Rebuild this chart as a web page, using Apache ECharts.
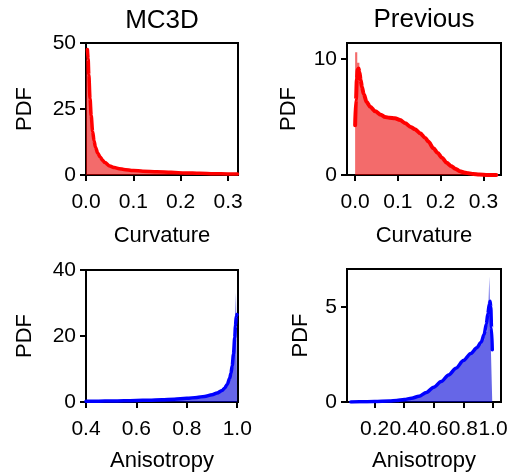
<!DOCTYPE html>
<html>
<head>
<meta charset="utf-8">
<script src="https://cdn.jsdelivr.net/npm/echarts@6/dist/echarts.min.js"></script>
<style>
html,body{margin:0;padding:0;background:#fff;}
#c{width:510px;height:473px;}
</style>
</head>
<body>
<div id="c"></div>
<script>
// ---------- Panel titles / axis names ----------
var panelTitles = ['MC3D', 'Previous'];
var xNames = ['Curvature', 'Curvature', 'Anisotropy', 'Anisotropy'];
var yName = 'PDF';

// ---------- Tick values ----------
var xTicks1 = [0.0, 0.1, 0.2, 0.3];
var xTicks2 = [0.0, 0.1, 0.2, 0.3];
var xTicks3 = [0.4, 0.6, 0.8, 1.0];
var xTicks4 = [0.2, 0.4, 0.6, 0.8, 1.0];
var yTicks1 = [0, 25, 50];
var yTicks2 = [0, 10];
var yTicks3 = [0, 20, 40];
var yTicks4 = [0, 5];

// ---------- MC3D curvature ----------
var mc3dCurvHistEdges = [0, 0.0025, 0.005, 0.0075, 0.01, 0.0125, 0.015, 0.0175, 0.02, 0.025, 0.03, 0.035, 0.04, 0.05, 0.06, 0.07, 0.08, 0.09, 0.10, 0.12, 0.14, 0.16, 0.18, 0.20, 0.22, 0.24, 0.26, 0.28, 0.30, 0.32];
var mc3dCurvHist = [47, 42, 33, 27, 22, 17.5, 14, 11.5, 9.5, 7.5, 6.1, 5.1, 4.0, 3.0, 2.5, 2.1, 1.85, 1.65, 1.45, 1.25, 1.1, 0.95, 0.85, 0.75, 0.65, 0.55, 0.48, 0.42, 0.36];
var mc3dCurvKdeX = [0.003, 0.0045, 0.006, 0.0085, 0.011, 0.014, 0.017, 0.02, 0.025, 0.03, 0.035, 0.04, 0.05, 0.06, 0.07, 0.08, 0.1, 0.12, 0.15, 0.18, 0.21, 0.24, 0.27, 0.3, 0.32];
var mc3dCurvKdeY = [47.5, 44, 38, 29, 22.5, 16.5, 13, 10.5, 8.2, 6.8, 5.6, 4.7, 3.4, 2.8, 2.4, 2.1, 1.7, 1.45, 1.2, 1.0, 0.8, 0.65, 0.5, 0.4, 0.35];

// ---------- Previous curvature ----------
var prevCurvHistEdges = [0, 0.005, 0.01, 0.015, 0.02, 0.025, 0.03, 0.035, 0.04, 0.045, 0.05, 0.055, 0.06, 0.065, 0.07, 0.075, 0.08, 0.085, 0.09, 0.095, 0.1, 0.105, 0.11, 0.115, 0.12, 0.125, 0.13, 0.135, 0.14, 0.145, 0.15, 0.155, 0.16, 0.165, 0.17, 0.175, 0.18, 0.185, 0.19, 0.195, 0.2, 0.205, 0.21, 0.215, 0.22, 0.225, 0.23, 0.235, 0.24, 0.245, 0.25, 0.255, 0.26, 0.265, 0.27, 0.275, 0.28, 0.285, 0.29, 0.295, 0.3, 0.305, 0.31, 0.315, 0.32, 0.325, 0.33];
var prevCurvHist = [10.6, 9.7, 8.4, 7.4, 6.8, 6.3, 6.0, 5.8, 5.6, 5.5, 5.35, 5.25, 5.15, 5.05, 5.0, 4.95, 4.95, 4.9, 4.9, 4.85, 4.75, 4.65, 4.55, 4.4, 4.3, 4.2, 4.1, 3.98, 3.85, 3.7, 3.55, 3.4, 3.2, 3.0, 2.8, 2.6, 2.4, 2.15, 1.95, 1.75, 1.55, 1.35, 1.15, 0.98, 0.82, 0.68, 0.55, 0.45, 0.36, 0.28, 0.22, 0.17, 0.13, 0.1, 0.07, 0.05, 0.035, 0.025, 0.018, 0.012, 0.008, 0.006, 0.004, 0.003, 0.002, 0.002];
var prevCurvKdeX = [0.000, 0.002, 0.004, 0.006, 0.008, 0.010, 0.013, 0.016, 0.02, 0.027, 0.035, 0.047, 0.06, 0.07, 0.08, 0.093, 0.105, 0.117, 0.13, 0.14, 0.152, 0.164, 0.171, 0.183, 0.193, 0.203, 0.214, 0.224, 0.234, 0.245, 0.255, 0.265, 0.276, 0.29, 0.31, 0.33];
var prevCurvKdeY = [4.3, 6.5, 8.3, 9.1, 9.2, 8.9, 8.2, 7.6, 7.0, 6.3, 5.9, 5.5, 5.2, 5.0, 4.95, 4.9, 4.75, 4.47, 4.15, 3.95, 3.6, 3.2, 2.9, 2.3, 1.9, 1.5, 1.05, 0.78, 0.55, 0.33, 0.22, 0.15, 0.08, 0.04, 0.01, 0.0];

// ---------- MC3D anisotropy ----------
var mc3dAnisHistEdges = [0.40, 0.42, 0.44, 0.46, 0.48, 0.50, 0.52, 0.54, 0.56, 0.58, 0.60, 0.62, 0.64, 0.66, 0.68, 0.70, 0.72, 0.74, 0.76, 0.78, 0.80, 0.82, 0.84, 0.86, 0.88, 0.90, 0.91, 0.92, 0.93, 0.94, 0.95, 0.96, 0.965, 0.97, 0.975, 0.98, 0.985, 0.99, 0.995, 1.0];
var mc3dAnisHist = [0.2, 0.22, 0.25, 0.27, 0.3, 0.32, 0.34, 0.36, 0.4, 0.43, 0.47, 0.51, 0.56, 0.61, 0.67, 0.73, 0.8, 0.87, 0.95, 1.05, 1.15, 1.3, 1.45, 1.65, 1.95, 2.2, 2.5, 2.85, 3.3, 3.9, 4.8, 5.6, 6.7, 8.0, 9.8, 12.5, 17, 23, 33];
var mc3dAnisKdeX = [0.40, 0.45, 0.5, 0.55, 0.6, 0.65, 0.7, 0.75, 0.8, 0.84, 0.87, 0.9, 0.92, 0.94, 0.95, 0.96, 0.97, 0.975, 0.98, 0.985, 0.99, 0.993, 0.996, 0.999];
var mc3dAnisKdeY = [0.2, 0.25, 0.3, 0.35, 0.45, 0.55, 0.7, 0.85, 1.1, 1.4, 1.7, 2.2, 2.7, 3.5, 4.2, 5.3, 7.2, 8.7, 11.0, 14.5, 19.5, 23.0, 26.0, 26.5];

// ---------- Previous anisotropy ----------
var prevAnisHistEdges = [0.06, 0.08, 0.10, 0.12, 0.14, 0.16, 0.18, 0.20, 0.22, 0.24, 0.26, 0.28, 0.30, 0.32, 0.34, 0.36, 0.38, 0.40, 0.42, 0.44, 0.46, 0.48, 0.50, 0.52, 0.54, 0.56, 0.58, 0.60, 0.62, 0.64, 0.66, 0.68, 0.70, 0.72, 0.74, 0.76, 0.78, 0.80, 0.82, 0.84, 0.86, 0.88, 0.90, 0.92, 0.94, 0.96, 0.97, 0.975, 0.985, 0.995];
var prevAnisHist = [0.0, 0.005, 0.01, 0.01, 0.01, 0.015, 0.02, 0.02, 0.025, 0.03, 0.04, 0.05, 0.06, 0.07, 0.08, 0.1, 0.12, 0.14, 0.16, 0.2, 0.24, 0.28, 0.33, 0.4, 0.5, 0.6, 0.72, 0.84, 0.96, 1.08, 1.2, 1.35, 1.5, 1.62, 1.78, 1.95, 2.1, 2.25, 2.4, 2.55, 2.7, 2.85, 3.0, 3.25, 3.7, 4.5, 5.3, 6.6, 3.0];
var prevAnisKdeX = [0.04, 0.1, 0.2, 0.3, 0.35, 0.4, 0.45, 0.5, 0.55, 0.6, 0.65, 0.7, 0.75, 0.8, 0.85, 0.89, 0.92, 0.94, 0.955, 0.965, 0.975, 0.98, 0.985, 0.99, 0.995];
var prevAnisKdeY = [0.0, 0.01, 0.02, 0.05, 0.08, 0.13, 0.2, 0.3, 0.5, 0.78, 1.08, 1.42, 1.78, 2.18, 2.55, 2.85, 3.15, 3.55, 4.1, 4.65, 5.15, 5.3, 5.0, 3.9, 2.75];

// ---------- helpers ----------
function histSteps(edges, heights) {
  var d = [];
  for (var i = 0; i < heights.length; i++) d.push([edges[i], heights[i]]);
  d.push([edges[edges.length - 1], heights[heights.length - 1]]);
  d.push([edges[edges.length - 1], 0]);
  return d;
}
function pairs(xs, ys) {
  return xs.map(function (x, i) { return [x, ys[i]]; });
}

var FONT = 'Liberation Sans, Arial, sans-serif';
var RED = '#ff0000', RED_FILL = 'rgba(235,0,0,0.58)';
var BLUE = '#0000ff', BLUE_FILL = 'rgba(0,0,215,0.6)';

var grids = [
  {left: 86, top: 43, width: 152, height: 132},
  {left: 347, top: 43, width: 154, height: 132},
  {left: 86, top: 270, width: 152, height: 132},
  {left: 347, top: 269, width: 154, height: 133}
].map(function (g) {
  return Object.assign({show: true, borderColor: '#000', borderWidth: 2, backgroundColor: 'transparent', containLabel: false, outerBoundsMode: 'none'}, g);
});

function xAxis(idx, min, max, ticks, nameGap) {
  return {
    type: 'value', gridIndex: idx, min: min, max: max,
    name: xNames[idx], nameLocation: 'middle', nameGap: nameGap,
    nameTextStyle: {color: '#000', fontSize: 22, fontFamily: FONT},
    axisLine: {show: true, onZero: false, lineStyle: {color: '#000', width: 2}},
    axisTick: {show: true, inside: false, length: 6, lineStyle: {color: '#000', width: 2}, customValues: ticks},
    axisLabel: {color: '#000', fontSize: 21, fontFamily: FONT, margin: 17, customValues: ticks,
      formatter: function (v) { return Number(v).toFixed(1); }},
    splitLine: {show: false}
  };
}
function yAxis(idx, min, max, ticks, nameGap) {
  return {
    type: 'value', gridIndex: idx, min: min, max: max,
    name: yName, nameLocation: 'middle', nameGap: nameGap,
    nameTextStyle: {color: '#000', fontSize: 22, fontFamily: FONT},
    axisLine: {show: true, onZero: false, lineStyle: {color: '#000', width: 2}},
    axisTick: {show: true, inside: false, length: 6, lineStyle: {color: '#000', width: 2}, customValues: ticks},
    axisLabel: {color: '#000', fontSize: 21, fontFamily: FONT, margin: 10, customValues: ticks,
      formatter: function (v) { return String(Math.round(v)); }},
    splitLine: {show: false}
  };
}

function histSeries(idx, edges, heights, fill) {
  return {
    type: 'line', xAxisIndex: idx, yAxisIndex: idx, step: 'end',
    data: histSteps(edges, heights), showSymbol: false, silent: true,
    lineStyle: {width: 0, opacity: 0}, areaStyle: {color: fill, opacity: 1}, z: 2
  };
}
function kdeSeries(idx, xs, ys, color, w) {
  return {
    type: 'line', xAxisIndex: idx, yAxisIndex: idx, data: pairs(xs, ys),
    showSymbol: false, silent: true, smooth: 0.3, smoothMonotone: 'x',
    lineStyle: {color: color, width: w, cap: 'round', join: 'round'}, z: 3
  };
}

var option = {
  animation: false,
  backgroundColor: '#fff',
  grid: grids,
  xAxis: [
    xAxis(0, 0, 0.321, xTicks1, 50),
    xAxis(1, -0.019, 0.341, xTicks2, 50),
    xAxis(2, 0.4, 1.003, xTicks3, 48),
    xAxis(3, 0.014, 1.054, xTicks4, 48)
  ],
  yAxis: [
    yAxis(0, 0, 50, yTicks1, 50),
    yAxis(1, 0, 11.4, yTicks2, 47),
    yAxis(2, 0, 40, yTicks3, 50),
    yAxis(3, 0, 7.0, yTicks4, 35)
  ],
  graphic: [
    {type: 'text', x: 162, y: 21, style: {text: panelTitles[0], align: 'center', verticalAlign: 'middle', font: '26px ' + FONT, fill: '#000'}},
    {type: 'text', x: 424, y: 20, style: {text: panelTitles[1], align: 'center', verticalAlign: 'middle', font: '26px ' + FONT, fill: '#000'}}
  ],
  series: [
    histSeries(0, mc3dCurvHistEdges, mc3dCurvHist, RED_FILL),
    kdeSeries(0, mc3dCurvKdeX, mc3dCurvKdeY, RED, 3.5),
    histSeries(1, prevCurvHistEdges, prevCurvHist, RED_FILL),
    kdeSeries(1, prevCurvKdeX, prevCurvKdeY, RED, 4),
    histSeries(2, mc3dAnisHistEdges, mc3dAnisHist, BLUE_FILL),
    kdeSeries(2, mc3dAnisKdeX, mc3dAnisKdeY, BLUE, 3.5),
    histSeries(3, prevAnisHistEdges, prevAnisHist, BLUE_FILL),
    kdeSeries(3, prevAnisKdeX, prevAnisKdeY, BLUE, 3.5)
  ]
};

var chart = echarts.init(document.getElementById('c'), null, {renderer: 'canvas'});
chart.setOption(option);
</script>
</body>
</html>
